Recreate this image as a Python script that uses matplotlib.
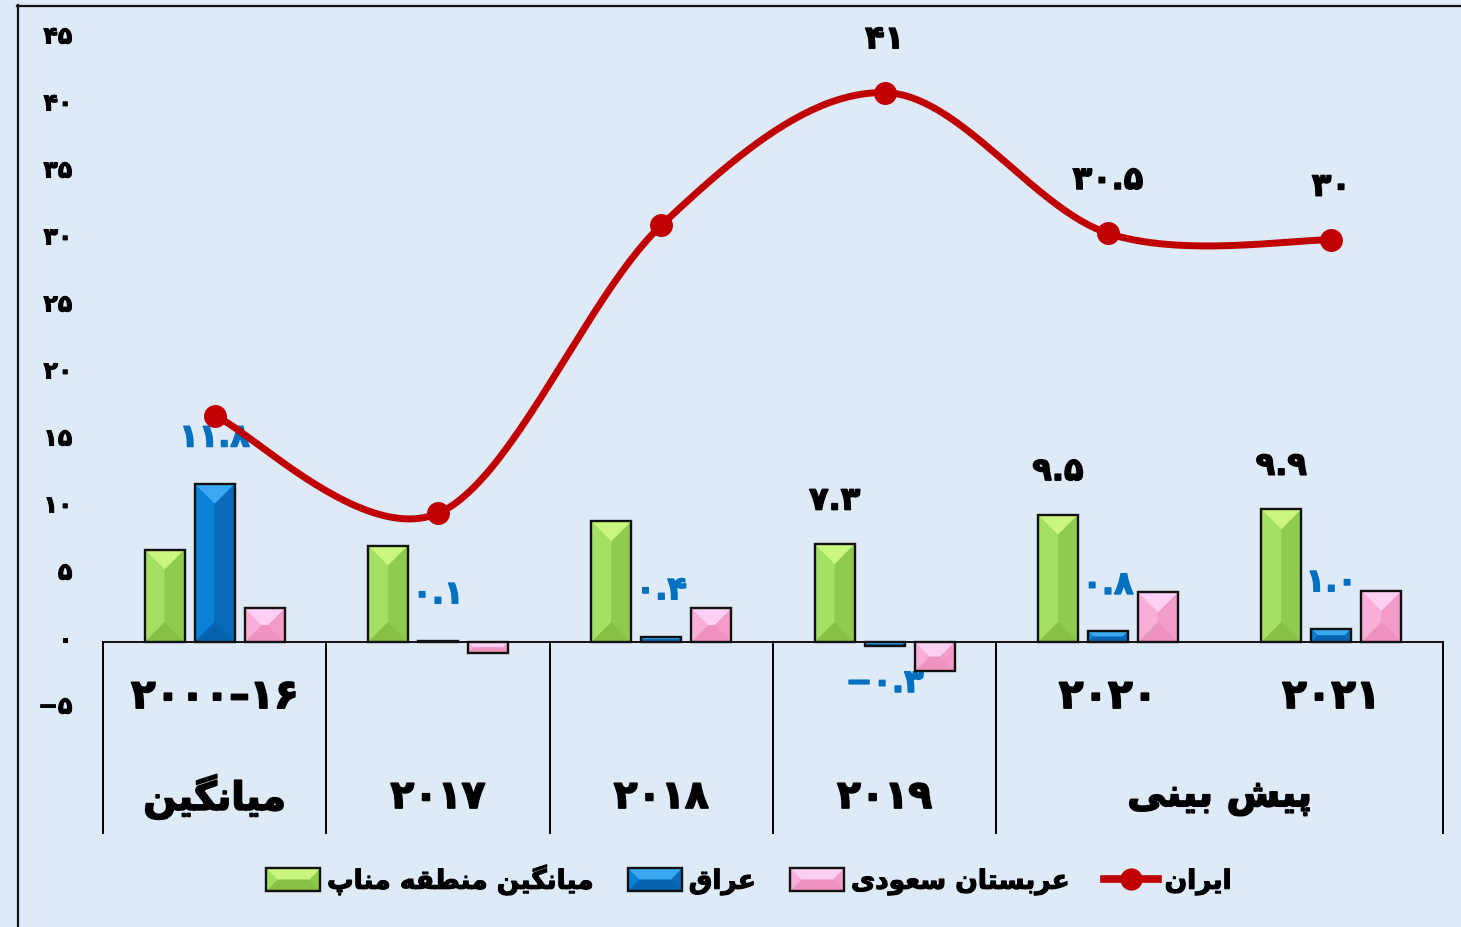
import matplotlib
matplotlib.use("Agg")
import numpy as np
import matplotlib.pyplot as plt
from matplotlib import font_manager
from matplotlib.font_manager import FontProperties
from matplotlib.ft2font import FT2Font
from matplotlib.patches import Polygon, Patch
from matplotlib.lines import Line2D
from matplotlib.legend_handler import HandlerBase
from matplotlib.transforms import ScaledTranslation
import matplotlib.patheffects as pe

# ---------------- data ----------------
period_labels = ["۲۰۰۰-۱۶", "", "", "", "۲۰۲۰", "۲۰۲۱"]      # upper row of category axis
group_labels = ["میانگین", "۲۰۱۷", "۲۰۱۸", "۲۰۱۹", "پیش بینی"]   # lower row of category axis
group_sizes = [1, 1, 1, 1, 2]
series_names = ["میانگین منطقه مناپ", "عراق", "عربستان سعودی", "ایران"]
menap = [6.9, 7.2, 9.0, 7.3, 9.5, 9.9]
iraq = [11.8, 0.1, 0.4, -0.3, 0.8, 1.0]
saudi = [2.5, -0.8, 2.5, -2.2, 3.7, 3.8]
iran = [16.9, 9.6, 31.1, 41.0, 30.5, 30.0]
menap_labelled = [3, 4, 5]
iraq_labelled = [0, 1, 2, 3, 4, 5]
iran_labelled = [3, 4, 5]
y_ticks = [-5, 0, 5, 10, 15, 20, 25, 30, 35, 40, 45]

# ---------------- style ----------------
BG = "#DEEAF6"
GREEN = dict(top="#CBF680", left="#A4E063", right="#8FCB4E", bottom="#88C046", mid="#9AD658")
BLUE = dict(top="#3BA9F2", left="#0A80D6", right="#0769B7", bottom="#0763AF", mid="#0875C7")
PINK = dict(top="#FFCFF4", left="#F9AFD7", right="#F29CC7", bottom="#EE92C0", mid="#F5A6CF")
RED = "#C00000"
LABEL_BLUE = "#0070C0"

# ---------------- fonts / Persian shaping ----------------
def _path(weight):
    return font_manager.findfont(FontProperties(family="DejaVu Sans", weight=weight))

def _covers(path, codes):
    f = FT2Font(path)
    return all(f.get_char_index(c) != 0 for c in codes)

TEST = [0xFEE3, 0xFB58, 0xFB94, 0x06F4, 0x06F5]
if _covers(_path("bold"), TEST):
    FW, FPATH, STROKE = "bold", _path("bold"), 0.045
else:
    FW, FPATH, STROKE = "normal", _path("normal"), 0.09

FORMS = {
    "ا": (0xFE8D, 0xFE8E, None, None),
    "ب": (0xFE8F, 0xFE90, 0xFE91, 0xFE92),
    "پ": (0xFB56, 0xFB57, 0xFB58, 0xFB59),
    "ت": (0xFE95, 0xFE96, 0xFE97, 0xFE98),
    "د": (0xFEA9, 0xFEAA, None, None),
    "ر": (0xFEAD, 0xFEAE, None, None),
    "س": (0xFEB1, 0xFEB2, 0xFEB3, 0xFEB4),
    "ش": (0xFEB5, 0xFEB6, 0xFEB7, 0xFEB8),
    "ط": (0xFEC1, 0xFEC2, 0xFEC3, 0xFEC4),
    "ع": (0xFEC9, 0xFECA, 0xFECB, 0xFECC),
    "ق": (0xFED5, 0xFED6, 0xFED7, 0xFED8),
    "گ": (0xFB92, 0xFB93, 0xFB94, 0xFB95),
    "م": (0xFEE1, 0xFEE2, 0xFEE3, 0xFEE4),
    "ن": (0xFEE5, 0xFEE6, 0xFEE7, 0xFEE8),
    "ه": (0xFEE9, 0xFEEA, 0xFEEB, 0xFEEC),
    "و": (0xFEED, 0xFEEE, None, None),
    "ی": (0xFBFC, 0xFBFD, 0xFBFE, 0xFBFF),
}
if not _covers(FPATH, [0xFBFC, 0xFBFD, 0xFBFE, 0xFBFF]):
    FORMS["ی"] = (0xFEEF, 0xFEF0, 0xFEF3, 0xFEF4)


def fa(text):
    """Shape Persian letters and put them in visual (left-to-right) order."""
    if not any(c in FORMS for c in text):
        return text
    out = []
    for i, c in enumerate(text):
        if c not in FORMS:
            out.append(c)
            continue
        f = FORMS[c]
        prev = text[i - 1] if i > 0 else None
        nxt = text[i + 1] if i + 1 < len(text) else None
        jp = prev in FORMS and FORMS[prev][2] is not None
        jn = f[2] is not None and nxt in FORMS
        if jp and jn:
            code = f[3]
        elif jp:
            code = f[1]
        elif jn:
            code = f[2]
        else:
            code = f[0]
        out.append(chr(code))
    return "".join(reversed(out))


DIG = str.maketrans("0123456789-", "۰۱۲۳۴۵۶۷۸۹−")


def fnum(s):
    return s.translate(DIG)


def effects(size, color):
    return [pe.withStroke(linewidth=size * STROKE, foreground=color)]


def tkw(size, color="black"):
    return dict(fontsize=size, color=color, family="DejaVu Sans", fontweight=FW,
                path_effects=effects(size, color))


# ---------------- figure ----------------
W_PX, H_PX = 1461, 927
fig = plt.figure(figsize=(W_PX / 100, H_PX / 100), dpi=100, facecolor=BG)
AX_L, AX_R, AX_T, AX_B = 103, 1443, 5, 833
ZERO_PX = 642
PPU = 13.4  # pixels per unit
ax = fig.add_axes([AX_L / W_PX, 1 - AX_B / H_PX, (AX_R - AX_L) / W_PX, (AX_B - AX_T) / H_PX])
ax.set_facecolor("none")
n = len(menap)
x = np.arange(n)
ax.set_xlim(-0.5, n - 0.5)
ax.set_ylim(-(AX_B - ZERO_PX) / PPU, (ZERO_PX - AX_T) / PPU)
for s in ax.spines.values():
    s.set_visible(False)
ax.set_xticks([])
ax.set_yticks(y_ticks)
ax.set_yticklabels([fnum(str(v)) for v in y_ticks], **tkw(17))
ax.tick_params(axis="y", length=0, pad=22)
for lab in ax.get_yticklabels():
    lab.set_transform(lab.get_transform() + ScaledTranslation(0, 5 / 100, fig.dpi_scale_trans))

# ---------------- bars with bevel ----------------
BW = 0.18
OFF = 0.224


def bevel_polys(x0, y0, x1, y1, cols):
    """x0<x1, y0<y1 in pixel space -> list of (poly, color)."""
    w, h = x1 - x0, y1 - y0
    b = min(w / 2, h / 2)
    return [
        ([(x0, y0), (x1, y0), (x1, y1), (x0, y1)], cols["mid"]),
        ([(x0, y1), (x1, y1), (x1 - b, y1 - b), (x0 + b, y1 - b)], cols["top"]),
        ([(x0, y0), (x1, y0), (x1 - b, y0 + b), (x0 + b, y0 + b)], cols["bottom"]),
        ([(x0, y1), (x0 + b, y1 - b), (x0 + b, y0 + b), (x0, y0)], cols["left"]),
        ([(x1, y1), (x1 - b, y1 - b), (x1 - b, y0 + b), (x1, y0)], cols["right"]),
    ]


inv = ax.transData.inverted()
for vals, off, cols in [(menap, -OFF, GREEN), (iraq, 0, BLUE), (saudi, OFF, PINK)]:
    bars = ax.bar(x + off, vals, BW, facecolor=cols["mid"], edgecolor="none", zorder=2)
    for r in bars:
        (px0, py0) = ax.transData.transform((r.get_x(), min(r.get_y(), r.get_y() + r.get_height())))
        (px1, py1) = ax.transData.transform((r.get_x() + r.get_width(), max(r.get_y(), r.get_y() + r.get_height())))
        if py1 - py0 > 3:
            for poly, c in bevel_polys(px0, py0, px1, py1, cols):
                dp = inv.transform(poly)
                ax.add_patch(Polygon(dp, closed=True, facecolor=c, edgecolor="none", zorder=2.2))
    ax.bar(x + off, vals, BW, fill=False, edgecolor="#111111", linewidth=1.7, zorder=2.5)

# ---------------- category table ----------------
ax.axhline(0, color="black", lw=1.3, zorder=1.5)
ybot = ax.get_ylim()[0]
bounds = np.concatenate([[-0.5], -0.5 + np.cumsum(group_sizes)])
for b in bounds:
    ax.plot([b, b], [0, ybot], color="black", lw=1.4, clip_on=False, zorder=1.5)
ROW1 = -(697 - ZERO_PX) / PPU
ROW2 = -(797 - ZERO_PX) / PPU
for i, lab in enumerate(period_labels):
    if lab:
        ax.text(x[i], ROW1, fnum(lab).replace("−", "–"), ha="center", va="center", **tkw(29))
for lab, lo, hi in zip(group_labels, bounds[:-1], bounds[1:]):
    ax.text((lo + hi) / 2, ROW2, fa(lab), ha="center", va="center", **tkw(28))

# ---------------- Iran smoothed line ----------------
def smooth(xs, ys, npts=50):
    P = ax.transData.transform(np.column_stack([xs, ys]).astype(float))
    segs = []
    for i in range(len(P) - 1):
        p0 = P[i - 1] if i > 0 else P[i]
        p1, p2 = P[i], P[i + 1]
        p3 = P[i + 2] if i + 2 < len(P) else P[i + 1]
        c1 = p1 + (p2 - p0) / 6
        c2 = p2 - (p3 - p1) / 6
        t = np.linspace(0, 1, npts)[:, None]
        seg = (1 - t) ** 3 * p1 + 3 * (1 - t) ** 2 * t * c1 + 3 * (1 - t) * t ** 2 * c2 + t ** 3 * p2
        segs.append(seg if i == 0 else seg[1:])
    return inv.transform(np.vstack(segs))


curve = smooth(x, iran)
ax.plot(curve[:, 0], curve[:, 1], color=RED, lw=5, zorder=4, solid_capstyle="round")
ax.plot(x, iran, "o", color=RED, ms=15.5, zorder=5)

# ---------------- data labels ----------------
LAB_FS = 23
for i in iran_labelled:
    ax.annotate(fnum(f"{iran[i]:g}"), (x[i], iran[i]), xytext=(0, 38), textcoords="offset points",
                ha="center", va="center", zorder=6, **tkw(LAB_FS))
for i in menap_labelled:
    ax.annotate(fnum(f"{menap[i]:.1f}"), (x[i] - OFF, menap[i]), xytext=(0, 31), textcoords="offset points",
                ha="center", va="center", zorder=6, **tkw(LAB_FS))
for i in iraq_labelled:
    v = iraq[i]
    dy = 33 if v >= 0 else -27
    ax.annotate(fnum(f"{v:.1f}"), (x[i], v), xytext=(0, dy), textcoords="offset points",
                ha="center", va="center", zorder=1.8, **tkw(LAB_FS, LABEL_BLUE))

# ---------------- legend ----------------
class BevelHandler(HandlerBase):
    def __init__(self, cols):
        super().__init__()
        self.cols = cols

    def create_artists(self, legend, orig_handle, xdescent, ydescent, width, height, fontsize, trans):
        x0, y0 = -xdescent, -ydescent
        arts = []
        for poly, c in bevel_polys(x0, y0, x0 + width, y0 + height, self.cols):
            arts.append(Polygon(poly, closed=True, facecolor=c, edgecolor="none", transform=trans))
        arts.append(Polygon([(x0, y0), (x0 + width, y0), (x0 + width, y0 + height), (x0, y0 + height)],
                            closed=True, fill=False, edgecolor="#111111", lw=1.7, transform=trans))
        return arts


LEG_FS = 19
h_green = Patch(label=fa(series_names[0]))
h_blue = Patch(label=fa(series_names[1]))
h_pink = Patch(label=fa(series_names[2]))
h_iran = Line2D([], [], color=RED, lw=5.5, marker="o", ms=15, label=fa(series_names[3]))
leg = fig.legend(handles=[h_green, h_blue, h_pink, h_iran],
                 handler_map={h_green: BevelHandler(GREEN), h_blue: BevelHandler(BLUE), h_pink: BevelHandler(PINK)},
                 loc="center", bbox_to_anchor=(749 / W_PX, 1 - 880 / H_PX), bbox_transform=fig.transFigure,
                 ncol=4, frameon=False, handlelength=39 / LEG_FS, handleheight=17.5 / LEG_FS,
                 handletextpad=0.25, columnspacing=1.3,
                 prop=FontProperties(family="DejaVu Sans", weight=FW, size=LEG_FS))
for t in leg.get_texts():
    t.set_path_effects(effects(LEG_FS, "black"))

# ---------------- outer frame ----------------
fig.add_artist(Line2D([17.5 / W_PX, 17.5 / W_PX], [1 - 5 / H_PX, 0], transform=fig.transFigure, color="#111111", lw=1.6))
fig.add_artist(Line2D([17 / W_PX, 1], [1 - 5.5 / H_PX, 1 - 5.5 / H_PX], transform=fig.transFigure, color="#111111", lw=1.6))

fig.savefig("out.png", dpi=100, facecolor=BG)
